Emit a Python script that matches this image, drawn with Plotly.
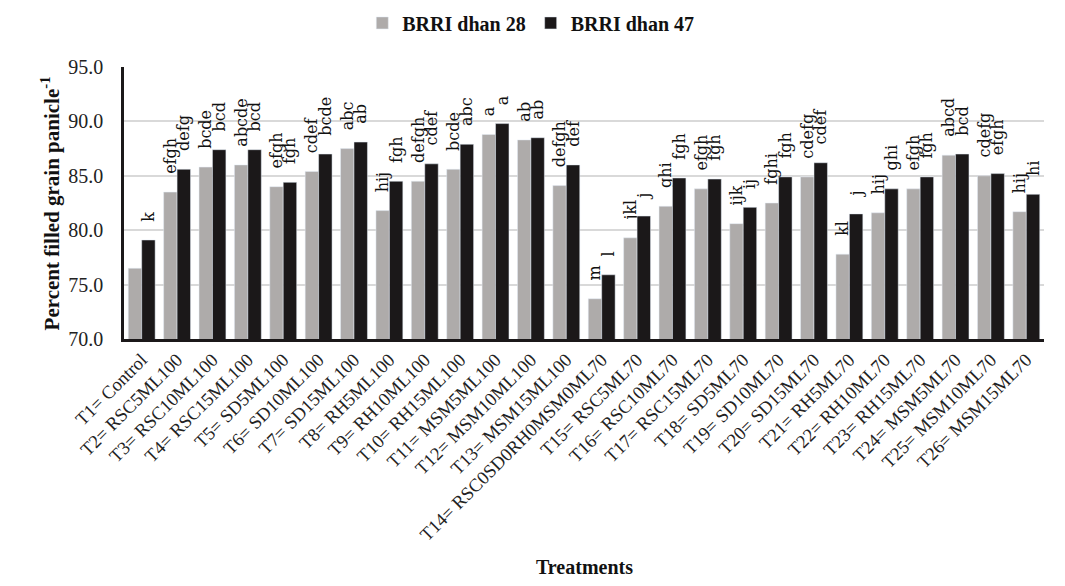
import plotly.graph_objects as go

treatments = ["T1= Control", "T2= RSC5ML100", "T3= RSC10ML100", "T4= RSC15ML100",
              "T5= SD5ML100", "T6= SD10ML100", "T7= SD15ML100", "T8= RH5ML100",
              "T9= RH10ML100", "T10= RH15ML100", "T11= MSM5ML100", "T12= MSM10ML100",
              "T13= MSM15ML100", "T14= RSC0SD0RH0MSM0ML70", "T15= RSC5ML70",
              "T16= RSC10ML70", "T17= RSC15ML70", "T18= SD5ML70", "T19= SD10ML70",
              "T20= SD15ML70", "T21= RH5ML70", "T22= RH10ML70", "T23= RH15ML70",
              "T24= MSM5ML70", "T25= MSM10ML70", "T26= MSM15ML70"]

dhan28 = [76.5, 83.5, 85.8, 86.0, 84.0, 85.4, 87.5, 81.8, 84.5, 85.6, 88.8, 88.3, 84.1,
          73.7, 79.3, 82.2, 83.8, 80.6, 82.5, 84.9, 77.8, 81.6, 83.8, 86.9, 85.0, 81.7]
dhan47 = [79.1, 85.6, 87.4, 87.4, 84.4, 87.0, 88.1, 84.5, 86.1, 87.9, 89.8, 88.5, 86.0,
          75.9, 81.3, 84.8, 84.7, 82.1, 84.9, 86.2, 81.5, 83.8, 84.9, 87.0, 85.2, 83.3]

letters28 = ["", "efgh", "bcde", "abcde", "efgh", "cdef", "abc", "hij", "defgh", "bcde",
             "a", "ab", "defgh", "m", "jkl", "ghi", "efgh", "ijk", "fghi", "cdefg", "kl",
             "hij", "efgh", "abcd", "cdefg", "hij"]
letters47 = ["k", "defg", "bcd", "bcd", "fgh", "bcde", "ab", "fgh", "cdef", "abc", "a",
             "ab", "def", "l", "j", "fgh", "fgh", "ij", "fgh", "cdef", "j", "ghi", "fgh",
             "bcd", "efgh", "hi"]

serif = "Liberation Serif"
label_font = "DejaVu Serif"
pad = "\u00a0\u00a0\u00a0"  # gap between bar top and its letters


def padded(labels):
    return [pad + s if s else "" for s in labels]


fig = go.Figure()
fig.add_trace(go.Bar(
    x=treatments, y=dhan28, name="BRRI dhan 28", marker_color="#aeabaa",
    text=padded(letters28), textposition="outside", textangle=-90, constraintext="none",
    cliponaxis=False, textfont=dict(family=label_font, size=16, color="#111111")))
fig.add_trace(go.Bar(
    x=treatments, y=dhan47, name="BRRI dhan 47", marker_color="#1b1819",
    text=padded(letters47), textposition="outside", textangle=-90, constraintext="none",
    cliponaxis=False, textfont=dict(family=label_font, size=16, color="#111111")))

# page body has an 8px margin, so the margins are shifted to keep the plot area in place
fig.update_layout(
    width=1065, height=586,
    margin=dict(l=116, r=29, t=59, b=255, autoexpand=False),
    barmode="group", bargap=0.24, bargroupgap=0.0,
    plot_bgcolor="white", paper_bgcolor="white",
    font=dict(family=serif, color="#222222"),
    legend=dict(orientation="h", x=0.259, xanchor="left", y=1.162, yanchor="middle",
                font=dict(family=serif, size=20, color="#111111", weight="bold"),
                itemwidth=30, traceorder="normal"),
    showlegend=True,
)
fig.update_xaxes(tickangle=-45, tickfont=dict(family=serif, size=18.5, color="#222222"),
                 showline=True, linecolor="#1b1819", linewidth=2.5, ticks="",
                 showgrid=False, automargin=False)
fig.update_yaxes(range=[70, 95], dtick=5, tickformat=".1f",
                 tickfont=dict(family=serif, size=20, color="#222222"),
                 showgrid=True, gridcolor="#d9d9d9", gridwidth=1.5,
                 showline=True, linecolor="#1b1819", linewidth=2.5, ticks="",
                 ticklabelstandoff=14,
                 zeroline=False, automargin=False)

fig.add_annotation(text="Percent filled grain panicle<sup>-1</sup>", xref="paper", yref="paper",
                   x=-0.08, y=0.5, xanchor="center", yanchor="middle", textangle=-90,
                   showarrow=False,
                   font=dict(family=serif, size=21, color="#111111", weight="bold"))
fig.add_annotation(text="Treatments", xref="paper", yref="paper",
                   x=0.5, y=-0.84, showarrow=False, yanchor="middle",
                   font=dict(family=serif, size=20, color="#111111", weight="bold"))
fig.add_shape(type="line", xref="paper", yref="paper", x0=-0.128, x1=-0.128, y0=-0.91, y1=1.246,
              line=dict(color="#d9d9d9", width=2))

fig.write_html("out.html")
